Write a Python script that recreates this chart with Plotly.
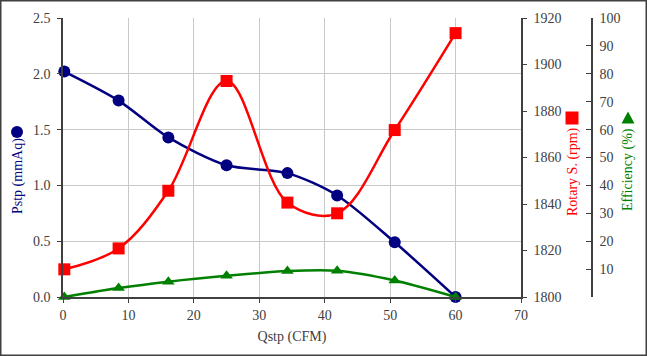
import plotly.graph_objects as go

# ---- data ----
qstp = [0.2, 8.5, 16.1, 25.0, 34.3, 41.9, 50.7, 60.0]
pstp = [2.02, 1.76, 1.43, 1.18, 1.11, 0.91, 0.49, 0.0]
rotary = [1811.9, 1820.9, 1845.7, 1892.9, 1840.6, 1836.0, 1871.8, 1913.5]
efficiency = [0.0, 3.2, 5.5, 7.6, 9.3, 9.4, 5.9, 0.0]

x_ticks = [0, 10, 20, 30, 40, 50, 60, 70]
p_ticks = [0.0, 0.5, 1.0, 1.5, 2.0, 2.5]
r_ticks = [1800, 1820, 1840, 1860, 1880, 1900, 1920]
e_ticks = [10, 20, 30, 40, 50, 60, 70, 80, 90, 100]

BLUE = "#000080"
RED = "#ff0000"
GREEN = "#008000"
FONT = "Liberation Serif"
TICKC = "#404040"

W, H = 647, 356
L, R, T, B = 63, 55, 18, 59
PW = W - L - R
PH = H - T - B
plot_right = 521
xdom_end = (plot_right - L) / PW


def px(xpix):
    return (xpix - L) / PW


def py(ypix):
    return (H - B - ypix) / PH


fig = go.Figure()
fig.add_trace(go.Scatter(
    x=qstp, y=pstp, mode="lines+markers", name="Pstp",
    line=dict(color=BLUE, width=2.5, shape="spline", smoothing=0.8),
    marker=dict(symbol="circle", size=12, color=BLUE),
    xaxis="x", yaxis="y", cliponaxis=False))
fig.add_trace(go.Scatter(
    x=qstp, y=rotary, mode="lines+markers", name="Rotary S.",
    line=dict(color=RED, width=2.5, shape="spline", smoothing=1.0),
    marker=dict(symbol="square", size=12, color=RED),
    xaxis="x", yaxis="y2", cliponaxis=False))
fig.add_trace(go.Scatter(
    x=qstp, y=efficiency, mode="lines+markers", name="Efficiency",
    line=dict(color=GREEN, width=2.5, shape="spline", smoothing=0.8),
    marker=dict(symbol="triangle-up", size=11, color=GREEN),
    xaxis="x", yaxis="y3", cliponaxis=False))

tickfont = dict(family=FONT, size=14, color=TICKC)

fig.update_layout(
    width=W, height=H,
    margin=dict(l=L, r=R, t=T, b=B, pad=0),
    paper_bgcolor="white", plot_bgcolor="white",
    showlegend=False,
    font=dict(family=FONT, size=14, color=TICKC),
    xaxis=dict(
        domain=[0, xdom_end], range=[0, 70], tickvals=x_ticks,
        showgrid=True, gridcolor="#c8c8c8", gridwidth=1,
        showline=True, linecolor="#404040", linewidth=1.5, mirror=False,
        ticks="outside", ticklen=4, tickcolor="#404040",
        tickfont=tickfont, zeroline=False,
        title=dict(text="Qstp (CFM)", font=dict(family=FONT, size=14, color=TICKC), standoff=10),
    ),
    yaxis=dict(
        range=[0, 2.5], tickvals=p_ticks, tickformat=".1f",
        showgrid=True, gridcolor="#c8c8c8", gridwidth=1,
        showline=True, linecolor="#404040", linewidth=1.5,
        ticks="outside", ticklen=4, tickcolor="#404040",
        tickfont=tickfont, zeroline=False, ticklabelstandoff=4,
    ),
    yaxis2=dict(
        overlaying="y", anchor="x", side="right",
        range=[1800, 1920], tickvals=r_ticks,
        showgrid=False, showline=True, linecolor="#404040", linewidth=1.5,
        ticks="outside", ticklen=4, tickcolor="#404040",
        tickfont=tickfont, zeroline=False, ticklabelstandoff=4,
    ),
    yaxis3=dict(
        overlaying="y", anchor="free", position=1.0, side="right",
        range=[0, 100], tickvals=e_ticks,
        showgrid=False, showline=True, linecolor="#404040", linewidth=1.5,
        ticks="inside", ticklen=5, tickcolor="#404040",
        tickfont=tickfont, zeroline=False, ticklabelstandoff=4,
    ),
)

# rotated axis titles as annotations
fig.add_annotation(text="Pstp (mmAq)", x=px(18), y=py(176), xref="paper", yref="paper",
                   textangle=-90, showarrow=False, xanchor="center", yanchor="middle",
                   font=dict(family=FONT, size=14, color=BLUE))
fig.add_annotation(text="Rotary S. (rpm)", x=px(572.5), y=py(171.5), xref="paper", yref="paper",
                   textangle=-90, showarrow=False, xanchor="center", yanchor="middle",
                   font=dict(family=FONT, size=14, color=RED))
fig.add_annotation(text="Efficiency (%)", x=px(628), y=py(170), xref="paper", yref="paper",
                   textangle=-90, showarrow=False, xanchor="center", yanchor="middle",
                   font=dict(family=FONT, size=14, color=GREEN))

# legend-like marker glyphs next to the titles
fig.add_shape(type="circle", xref="paper", yref="paper", xsizemode="pixel", ysizemode="pixel",
              xanchor=px(17), yanchor=py(132), x0=-6, x1=6, y0=-6, y1=6,
              fillcolor=BLUE, line=dict(width=0))
fig.add_shape(type="rect", xref="paper", yref="paper", xsizemode="pixel", ysizemode="pixel",
              xanchor=px(572), yanchor=py(118), x0=-6.5, x1=6.5, y0=-6.5, y1=6.5,
              fillcolor=RED, line=dict(width=0))
fig.add_shape(type="path", xref="paper", yref="paper", xsizemode="pixel", ysizemode="pixel",
              xanchor=px(628), yanchor=py(118), path="M -6.5 -5.5 L 6.5 -5.5 L 0 6.5 Z",
              fillcolor=GREEN, line=dict(width=0))

# outer chart border
fig.add_shape(type="rect", xref="paper", yref="paper",
              x0=px(0.75), x1=px(W - 0.75), y0=py(H - 0.75), y1=py(0.75),
              line=dict(color="#404040", width=1.5), fillcolor="rgba(0,0,0,0)", layer="below")

fig.write_html("out.html",
               config={"displayModeBar": False},
               post_script="document.body.style.margin='0';document.body.style.overflow='hidden';")
